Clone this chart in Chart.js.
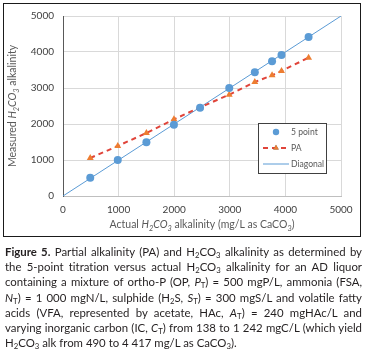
<!DOCTYPE html>
<html>
<head>
<meta charset="utf-8">
<script src="https://cdn.jsdelivr.net/npm/chart.js@4"></script>
<style>
  html, body { margin: 0; padding: 0; background: #fff; }
  body { width: 367px; height: 356px; position: relative; overflow: hidden; }
  #wrap { position: absolute; left: 0; top: 0; width: 367px; height: 240px; }
  #frame { position: absolute; left: 3px; top: 3px; width: 356px; height: 232px;
           border: 1.5px solid #1a1a1a; pointer-events: none; }
  #caption { position: absolute; left: 5px; top: 244px; width: 357px;
             font-family: Lato, "Open Sans", sans-serif; font-size: 11.4px;
             line-height: 15.2px; color: #231f20; }
  #caption div { white-space: nowrap; text-align: justify; text-align-last: justify; }
  #caption div.last { text-align: left; text-align-last: left; }
  #caption sub { font-size: 0.68em; line-height: 0; vertical-align: -0.28em; }
</style>
</head>
<body>
<div id="wrap"><canvas id="myScatter" width="367" height="240"></canvas></div>
<div id="frame"></div>
<div id="caption">
  <div><b>Figure 5.</b> Partial alkalinity (PA) and H<sub>2</sub>CO<sub>3</sub> alkalinity as determined by</div>
  <div>the 5-point titration versus actual H<sub>2</sub>CO<sub>3</sub> alkalinity for an AD liquor</div>
  <div>containing a mixture of ortho-P (OP, <i>P</i><sub>T</sub>) = 500 mgP/L, ammonia (FSA,</div>
  <div><i>N</i><sub>T</sub>) = 1 000 mgN/L, sulphide (H<sub>2</sub>S, <i>S</i><sub>T</sub>) = 300 mgS/L and volatile fatty</div>
  <div>acids (VFA, represented by acetate, HAc, <i>A</i><sub>T</sub>) = 240 mgHAc/L and</div>
  <div>varying inorganic carbon (IC, <i>C</i><sub>T</sub>) from 138 to 1 242 mgC/L (which yield</div>
  <div class="last">H<sub>2</sub>CO<sub>3</sub> alk from 490 to 4 417 mg/L as CaCO<sub>3</sub>).</div>
</div>
<script>
// data
var actualAlk = [490, 985, 1500, 1995, 2465, 2990, 3450, 3760, 3930, 4417];
var fivePoint = [509, 1000, 1491, 1981, 2454, 3000, 3435, 3741, 3917, 4417];
var partialAlk = [1056, 1389, 1750, 2130, 2460, 2815, 3167, 3352, 3472, 3843];
var diagonalX = [0, 5000];
var diagonalY = [0, 5000];
var axisTicks = [0, 1000, 2000, 3000, 4000, 5000];

function pairs(xs, ys) {
  return xs.map(function (x, i) { return { x: x, y: ys[i] }; });
}

// squeeze caption lines that are too wide for the column
document.querySelectorAll('#caption div').forEach(function (d) {
  var span = document.createElement('span');
  span.innerHTML = d.innerHTML;
  d.innerHTML = '';
  d.appendChild(span);
  var w = span.getBoundingClientRect().width;
  var n = span.textContent.length;
  if (w > 357) d.style.letterSpacing = ((357 - w) / n) + 'px';
});

var FONT = 'Lato, "Open Sans", sans-serif';

// text with italic / subscript parts, centred on (x, y)
function drawRich(ctx, segs, x, y, size, angle, color) {
  ctx.save();
  ctx.translate(x, y);
  ctx.rotate(angle);
  ctx.fillStyle = color;
  ctx.textBaseline = 'middle';
  ctx.textAlign = 'left';
  var total = 0;
  segs.forEach(function (s) {
    var fs = s.sub ? size * 0.7 : size;
    ctx.font = (s.it ? 'italic ' : '') + fs + 'px ' + FONT;
    s.w = ctx.measureText(s.t).width;
    total += s.w;
  });
  var cx = -total / 2;
  segs.forEach(function (s) {
    var fs = s.sub ? size * 0.7 : size;
    ctx.font = (s.it ? 'italic ' : '') + fs + 'px ' + FONT;
    ctx.fillText(s.t, cx, s.sub ? size * 0.3 : 0);
    cx += s.w;
  });
  ctx.restore();
}

var xTitle = [
  { t: 'Actual ' }, { t: 'H', it: 1 }, { t: '2', it: 1, sub: 1 }, { t: 'CO', it: 1 },
  { t: '3', it: 1, sub: 1 }, { t: ' alkalinity (mg/L as CaCO' }, { t: '3', sub: 1 }, { t: ')' }
];
var yTitle = [
  { t: 'Measured ' }, { t: 'H', it: 1 }, { t: '2', it: 1, sub: 1 }, { t: 'CO', it: 1 },
  { t: '3', it: 1, sub: 1 }, { t: ' alkalinity' }
];

var extras = {
  id: 'extras',
  afterDraw: function (chart) {
    var ctx = chart.ctx;
    var a = chart.chartArea;
    drawRich(ctx, xTitle, (a.left + a.right) / 2, 225, 10.5, 0, '#595959');
    drawRich(ctx, yTitle, 13, (a.top + a.bottom) / 2, 10.5, -Math.PI / 2, '#595959');

    // legend box inside the plot
    var bx = 258, by = 123, bw = 68, bh = 50;
    ctx.save();
    ctx.fillStyle = '#fff';
    ctx.fillRect(bx, by, bw, bh);
    ctx.strokeStyle = '#404040';
    ctx.lineWidth = 1;
    ctx.strokeRect(bx + 0.5, by + 0.5, bw, bh);
    var ds = chart.data.datasets;
    var rows = [132, 148, 164];
    ctx.font = '8.6px ' + FONT;
    ctx.textBaseline = 'middle';
    ds.forEach(function (d, i) {
      var y = rows[i];
      if (d.showLine) {
        ctx.save();
        ctx.strokeStyle = d.borderColor;
        ctx.lineWidth = d.borderWidth;
        ctx.setLineDash(d.borderDash || []);
        ctx.beginPath();
        ctx.moveTo(263, y);
        ctx.lineTo(289, y);
        ctx.stroke();
        ctx.restore();
      }
      if (d.pointRadius > 0) {
        Chart.helpers.drawPoint(ctx, {
          pointStyle: d.pointStyle || 'circle',
          radius: d.pointRadius * 0.8,
          borderWidth: 0
        }, 276, y);
        ctx.fillStyle = d.pointBackgroundColor;
        ctx.fill();
      }
      ctx.fillStyle = '#595959';
      ctx.fillText(d.label, 291, y);
    });
    ctx.restore();
  }
};

var ctxScatter = document.getElementById('myScatter').getContext('2d');
var myChart = new Chart(ctxScatter, {
  type: 'scatter',
  data: {
    datasets: [{
      label: '5 point',
      data: pairs(actualAlk, fivePoint),
      showLine: false,
      pointStyle: 'circle',
      pointRadius: 4,
      pointBackgroundColor: '#5b9bd5',
      pointBorderWidth: 0,
      borderColor: '#5b9bd5'
    }, {
      label: 'PA',
      data: pairs(actualAlk, partialAlk),
      showLine: true,
      borderColor: '#e0443a',
      borderWidth: 2,
      borderDash: [5, 4],
      pointStyle: 'triangle',
      pointRadius: 4,
      pointBackgroundColor: '#ed7d31',
      pointBorderWidth: 0
    }, {
      label: 'Diagonal',
      data: pairs(diagonalX, diagonalY),
      showLine: true,
      borderColor: '#5b9bd5',
      borderWidth: 1,
      pointRadius: 0
    }]
  },
  options: {
    responsive: false,
    animation: false,
    events: [],
    layout: { padding: { left: 0, top: 16, right: 26, bottom: 0 } },
    plugins: { legend: { display: false }, tooltip: { enabled: false } },
    scales: {
      x: {
        type: 'linear', min: 0, max: 5000,
        afterFit: function (s) { s.height = 44; },
        afterBuildTicks: function (s) { s.ticks = axisTicks.map(function (v) { return { value: v }; }); },
        grid: { color: '#d9d9d9', drawTicks: false },
        border: { color: '#bfbfbf' },
        ticks: { padding: 8, color: '#404040', font: { family: FONT, size: 10 },
                 callback: function (v) { return String(v); } }
      },
      y: {
        type: 'linear', min: 0, max: 5000,
        afterFit: function (s) { s.width = 63; },
        afterBuildTicks: function (s) { s.ticks = axisTicks.map(function (v) { return { value: v }; }); },
        grid: { color: '#d9d9d9', drawTicks: false },
        border: { color: '#595959' },
        ticks: { padding: 9, color: '#404040', font: { family: FONT, size: 10 },
                 callback: function (v) { return String(v); } }
      }
    }
  },
  plugins: [extras]
});
</script>
</body>
</html>
